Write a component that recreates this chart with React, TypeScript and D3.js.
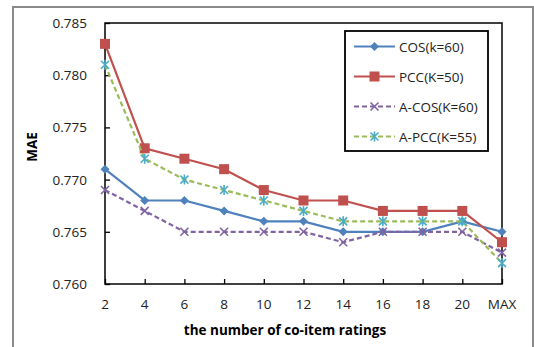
import { useEffect, useRef } from 'react';
import * as d3 from 'd3';

// x categories
const categories = ['2', '4', '6', '8', '10', '12', '14', '16', '18', '20', 'MAX'];
const yTicks = [0.76, 0.765, 0.77, 0.775, 0.78, 0.785];

const cosValues = [0.771, 0.768, 0.768, 0.767, 0.766, 0.766, 0.765, 0.765, 0.765, 0.766, 0.765];
const pccValues = [0.783, 0.773, 0.772, 0.771, 0.769, 0.768, 0.768, 0.767, 0.767, 0.767, 0.764];
const aCosValues = [0.769, 0.767, 0.765, 0.765, 0.765, 0.765, 0.764, 0.765, 0.765, 0.765, 0.763];
const aPccValues = [0.781, 0.772, 0.77, 0.769, 0.768, 0.767, 0.766, 0.766, 0.766, 0.766, 0.762];

const seriesNames = ['COS(k=60)', 'PCC(K=50)', 'A-COS(K=60)', 'A-PCC(K=55)'];

interface Series {
    name: string;
    values: number[];
    line: string;
    marker: string;
    dashed: boolean;
    shape: 'diamond' | 'square' | 'x' | 'star';
}

const SERIES: Series[] = [
    { name: seriesNames[0], values: cosValues, line: '#4F81BD', marker: '#4F81BD', dashed: false, shape: 'diamond' },
    { name: seriesNames[1], values: pccValues, line: '#C0504D', marker: '#C0504D', dashed: false, shape: 'square' },
    { name: seriesNames[2], values: aCosValues, line: '#8064A2', marker: '#8064A2', dashed: true, shape: 'x' },
    { name: seriesNames[3], values: aPccValues, line: '#9BBB59', marker: '#4BACC6', dashed: true, shape: 'star' },
];

const FONT = '"Open Sans", Lato, sans-serif';
const FS = 13.5;

function drawMarker(g: d3.Selection<SVGGElement, unknown, null, undefined>, s: Series, x: number, y: number) {
    if (s.shape === 'diamond') {
        g.append('path')
            .attr('d', `M${x},${y - 4.5}L${x + 4.5},${y}L${x},${y + 4.5}L${x - 4.5},${y}Z`)
            .attr('fill', s.marker);
    } else if (s.shape === 'square') {
        g.append('rect')
            .attr('x', x - 5).attr('y', y - 5)
            .attr('width', 10).attr('height', 10)
            .attr('fill', s.marker);
    } else {
        const r = 4;
        const p = `M${x - r},${y - r}L${x + r},${y + r}M${x - r},${y + r}L${x + r},${y - r}` +
            (s.shape === 'star' ? `M${x},${y - r - 1}L${x},${y + r + 1}` : '');
        g.append('path').attr('d', p).attr('stroke', s.marker).attr('stroke-width', 1.6).attr('fill', 'none');
    }
}

export default function App() {
    const svgRef = useRef<SVGSVGElement>(null);

    useEffect(() => {
        if (!svgRef.current) return;
        const svg = d3.select(svgRef.current);
        svg.selectAll('*').remove();

        const left = 105, right = 502, top = 23, bottom = 284;

        // outer frame
        svg.append('rect')
            .attr('x', 13).attr('y', 7).attr('width', 520).attr('height', 350)
            .attr('fill', 'white').attr('stroke', '#8a8a8a').attr('stroke-width', 2);

        const x = d3.scalePoint<string>().domain(categories).range([left, right]);
        const y = d3.scaleLinear().domain([0.76, 0.785]).range([bottom, top]);

        // plot border
        svg.append('rect')
            .attr('x', left).attr('y', top).attr('width', right - left).attr('height', bottom - top)
            .attr('fill', 'none').attr('stroke', '#000').attr('stroke-width', 1.5);

        // y axis, ticks inward
        const yAxis = svg.append('g').attr('transform', `translate(${left},0)`)
            .call(d3.axisRight(y).tickValues(yTicks).tickSize(5).tickFormat(() => ''));
        yAxis.select('.domain').remove();
        yAxis.selectAll('line').attr('stroke', '#000').attr('stroke-width', 1.3);
        svg.selectAll('.ylab').data(yTicks).enter().append('text')
            .attr('x', left - 18).attr('y', (d) => y(d) + 5)
            .attr('text-anchor', 'end').attr('font-family', FONT).attr('font-size', FS).attr('fill', '#222')
            .text((d) => d3.format('.3f')(d));

        // x axis, ticks inward
        const xAxis = svg.append('g').attr('transform', `translate(0,${bottom})`)
            .call(d3.axisTop(x).tickSize(5).tickFormat(() => ''));
        xAxis.select('.domain').remove();
        xAxis.selectAll('line').attr('stroke', '#000').attr('stroke-width', 1.3);
        svg.selectAll('.xlab').data(categories).enter().append('text')
            .attr('x', (d) => x(d)!).attr('y', bottom + 25)
            .attr('text-anchor', 'middle').attr('font-family', FONT).attr('font-size', FS).attr('fill', '#222')
            .text((d) => d);

        // axis titles
        svg.append('text')
            .attr('x', 285).attr('y', 335)
            .attr('text-anchor', 'middle').attr('font-family', FONT).attr('font-size', FS)
            .attr('font-weight', 'bold').text('the number of co-item ratings');
        svg.append('text')
            .attr('transform', 'translate(37,147) rotate(-90)')
            .attr('text-anchor', 'middle').attr('font-family', FONT).attr('font-size', FS)
            .attr('font-weight', 'bold').text('MAE');

        const line = d3.line<number>()
            .x((_, i) => x(categories[i])!)
            .y((d) => y(d));

        SERIES.forEach((s) => {
            svg.append('path')
                .attr('d', line(s.values))
                .attr('fill', 'none')
                .attr('stroke', s.line)
                .attr('stroke-width', 2.2)
                .attr('stroke-dasharray', s.dashed ? '5,3' : null);
            const g = svg.append('g');
            s.values.forEach((v, i) => drawMarker(g, s, x(categories[i])!, y(v)));
        });

        // legend
        const lg = svg.append('g');
        lg.append('rect')
            .attr('x', 345).attr('y', 31).attr('width', 143).attr('height', 120)
            .attr('fill', 'white').attr('stroke', '#000').attr('stroke-width', 1.8);
        SERIES.forEach((s, i) => {
            const ly = 46.5 + i * 30;
            lg.append('line')
                .attr('x1', 354).attr('x2', 395).attr('y1', ly).attr('y2', ly)
                .attr('stroke', s.line).attr('stroke-width', 2.2)
                .attr('stroke-dasharray', s.dashed ? '5,3' : null);
            const mg = lg.append('g');
            drawMarker(mg, s, 374.5, ly);
            lg.append('text')
                .attr('x', 399).attr('y', ly + 5)
                .attr('font-family', FONT).attr('font-size', FS).attr('fill', '#222')
                .text(s.name);
        });
    }, []);

    return (
        <div>
            <svg ref={svgRef} width={534} height={347} style={{ position: 'absolute', left: 0, top: 0 }}></svg>
        </div>
    );
}
